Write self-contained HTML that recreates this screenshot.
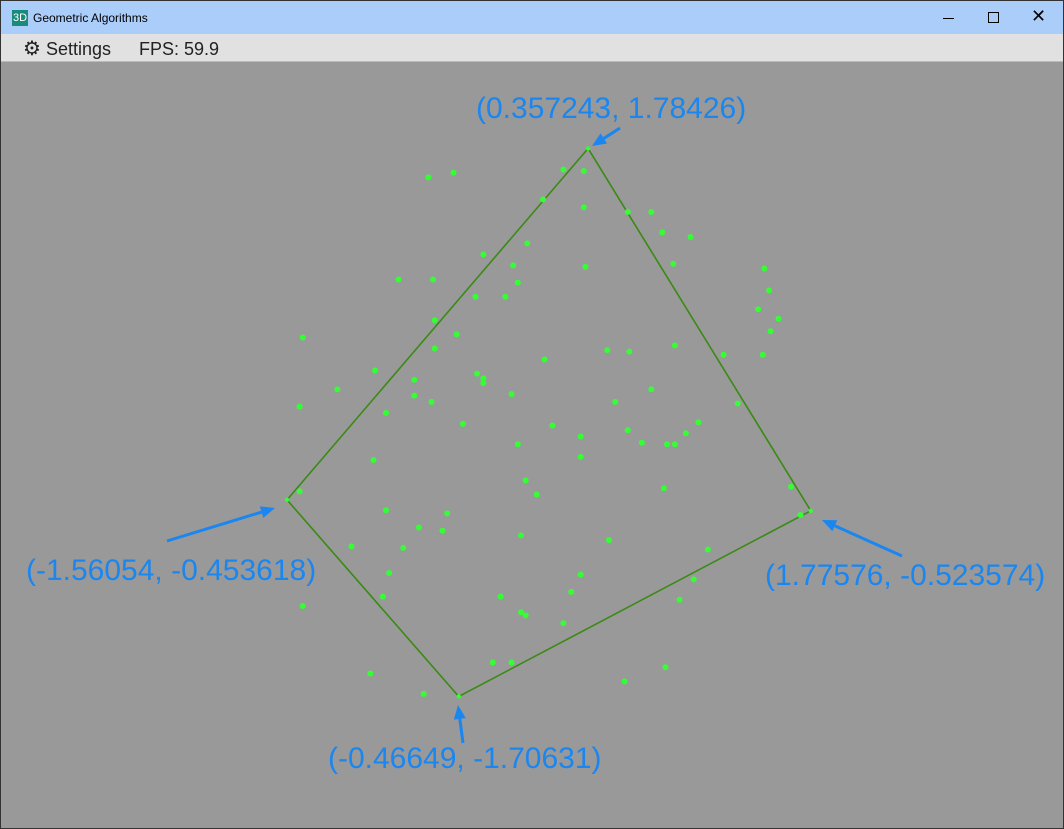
<!DOCTYPE html>
<html><head><meta charset="utf-8"><style>
body{margin:0;width:1064px;height:829px;overflow:hidden;background:#fff;font-family:"Liberation Sans",sans-serif}
#win{position:absolute;left:0;top:0;width:1062px;height:827px;border:1px solid #333;background:#999}
#title{position:absolute;left:0;top:0;width:1062px;height:33px;background:#aacdfa}
#menu{position:absolute;left:0;top:33px;width:1062px;height:27px;background:#e1e1e1;border-bottom:1px solid #bbb}
.t{position:absolute;font-size:12px;color:#000}
svg{position:absolute;left:0;top:0}
</style></head><body>
<div id="win">
<div id="title">
 <div style="position:absolute;left:11px;top:9px;width:16px;height:16px;background:#1a8a7a;color:#fff;font-size:11px;line-height:16px;text-align:center">3D</div>
 <div class="t" style="left:32px;top:10px">Geometric Algorithms</div>
 <div style="position:absolute;left:942px;top:17px;width:11px;height:1px;background:#000"></div>
 <div style="position:absolute;left:987px;top:11px;width:9px;height:9px;border:1px solid #000"></div>
 <div style="position:absolute;left:1030px;top:5px;font-size:18px">✕</div>
</div>
<div id="menu">
 <div style="position:absolute;left:22px;top:2px;font-size:18px;color:#222"><span style="font-size:20px">⚙</span> Settings</div>
 <div style="position:absolute;left:138px;top:5px;font-size:18px;color:#222">FPS: 59.9</div>
</div>
</div>
<svg id="chart" width="1064" height="829"></svg>
<script>
const xs=[-0.66,-0.50,0.20,0.33,0.07,0.33,0.61,0.76,0.83,1.01,-0.03,-0.31,-0.12,0.34,0.90,-0.85,-0.63,-0.09,-0.36,-0.17,1.48,1.51,1.44,1.57,1.52,1.47,1.22,-0.62,-0.48,-1.46,-0.62,0.08,0.48,0.62,0.91,-1.00,-0.75,-0.35,-0.31,-0.31,-1.24,-0.75,-0.64,-1.48,-0.93,-0.13,0.76,0.53,1.31,-0.44,0.13,0.31,0.61,0.70,0.86,0.91,0.98,1.06,-0.09,-1.01,0.31,-0.04,0.03,-1.48,0.84,1.65,1.71,-0.93,-0.54,-0.72,-0.57,-0.82,-1.15,-0.07,0.49,-0.91,0.31,1.12,-0.95,-1.46,-0.20,0.25,1.03,0.94,-0.07,-0.04,0.20,-0.25,-0.13,-1.03,-0.69,0.59,0.85];
const ys=[1.60,1.63,1.65,1.64,1.46,1.41,1.38,1.38,1.25,1.22,1.18,1.11,1.04,1.03,1.05,0.95,0.95,0.93,0.84,0.84,1.02,0.88,0.76,0.70,0.62,0.47,0.47,0.69,0.60,0.58,0.51,0.44,0.50,0.49,0.53,0.37,0.31,0.35,0.32,0.29,0.25,0.21,0.17,0.14,0.10,0.22,0.25,0.17,0.16,0.03,0.02,-0.05,-0.01,-0.09,-0.10,-0.10,-0.03,0.04,-0.10,-0.20,-0.18,-0.33,-0.42,-0.40,-0.38,-0.37,-0.55,-0.52,-0.54,-0.63,-0.65,-0.76,-0.75,-0.68,-0.71,-0.92,-0.93,-0.77,-1.07,-1.13,-1.07,-1.04,-0.96,-1.09,-1.17,-1.19,-1.24,-1.49,-1.49,-1.56,-1.69,-1.61,-1.52];
const hullX=[0.357243,1.77576,-0.46649,-1.56054];
const hullY=[1.78426,-0.523574,-1.70631,-0.453618];
const hullLabels=["(0.357243, 1.78426)","(1.77576, -0.523574)","(-0.46649, -1.70631)","(-1.56054, -0.453618)"];
const NS="http://www.w3.org/2000/svg";
const svg=document.getElementById('chart');
const sx=v=>532+157*v, sy=v=>428.6-157*v;
function mk(t,a){const e=document.createElementNS(NS,t);for(const k in a)e.setAttribute(k,a[k]);svg.appendChild(e);return e;}
const poly=mk('polygon',{points:hullX.map((x,i)=>sx(x)+','+sy(hullY[i])).join(' '),fill:'none',stroke:'#3a8a14','stroke-width':1.6});


xs.forEach((x,i)=>{const c=mk('circle',{cx:sx(x),cy:sy(ys[i]),r:3,fill:'#33ff33'});

});
hullX.forEach((x,i)=>{const c=mk('circle',{cx:sx(x),cy:sy(hullY[i]),r:2.2,fill:'#33ff33'});

});
const lab=[[476,118,'start',620,128,592,146],[765,585,'start',902,556,822,520],[328,768,'start',463,743,458,705],[26,580,'start',167,541,275,508]];
lab.forEach((l,i)=>{
 const t=mk('text',{x:l[0],y:l[1],'font-size':30,fill:'#1a86f0','font-family':'Liberation Sans, sans-serif'});t.textContent=hullLabels[i];
 
 
 const dx=l[5]-l[3],dy=l[6]-l[4],L=Math.hypot(dx,dy),ux=dx/L,uy=dy/L;
 const bx=l[5]-ux*14,by=l[6]-uy*14;
 const ln=mk('line',{x1:l[3],y1:l[4],x2:bx,y2:by,stroke:'#1a86f0','stroke-width':3});
 
 
 const h=mk('polygon',{points:`${l[5]},${l[6]} ${bx-uy*6},${by+ux*6} ${bx+uy*6},${by-ux*6}`,fill:'#1a86f0'});
 
 
});
</script>
</body></html>
